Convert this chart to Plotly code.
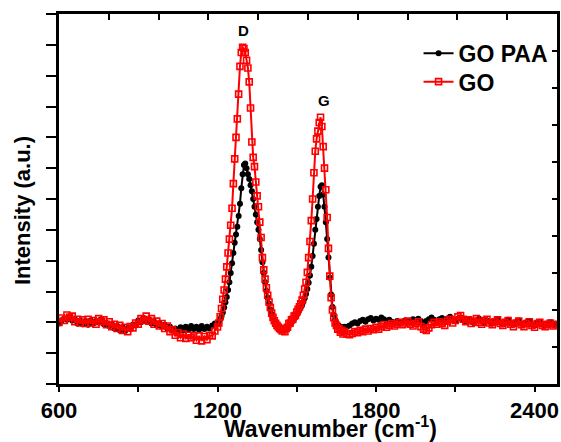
import plotly.graph_objects as go

# ---------------- data ----------------
wn_low = [600, 610, 620, 630, 640, 650, 660, 670, 680, 690,
          700, 710, 720, 730, 740, 750, 760, 770, 780, 790,
          800, 810, 820, 830, 840, 850, 860, 870, 880, 890,
          900, 910, 920, 930, 940, 950, 960, 970, 980, 990,
          1000, 1010, 1020, 1030, 1040, 1050, 1060, 1070, 1080, 1090,
          1100, 1110, 1120, 1130, 1140, 1150, 1160, 1170, 1180, 1190]
wn_peak = [1200, 1205, 1210, 1215, 1220, 1225, 1230, 1235, 1240, 1245,
           1250, 1255, 1260, 1265, 1270, 1275, 1280, 1285, 1290, 1295,
           1300, 1305, 1310, 1315, 1320, 1325, 1330, 1335, 1340, 1345,
           1350, 1355, 1360, 1365, 1370, 1375, 1380, 1385, 1390, 1395,
           1400, 1405, 1410, 1415, 1420, 1425, 1430, 1435, 1440, 1445,
           1450, 1455, 1460, 1465, 1470, 1475, 1480, 1485, 1490, 1495,
           1500, 1505, 1510, 1515, 1520, 1525, 1530, 1535, 1540, 1545,
           1550, 1555, 1560, 1565, 1570, 1575, 1580, 1585, 1590, 1595,
           1600, 1605, 1610, 1615, 1620, 1625, 1630, 1635, 1640, 1645,
           1650, 1655, 1660, 1665, 1670, 1675, 1680]
wn_high = [1690, 1700, 1710, 1720, 1730, 1740, 1750, 1760, 1770, 1780,
           1790, 1800, 1810, 1820, 1830, 1840, 1850, 1860, 1870, 1880,
           1890, 1900, 1910, 1920, 1930, 1940, 1950, 1960, 1970, 1980,
           1990, 2000, 2010, 2020, 2030, 2040, 2050, 2060, 2070, 2080,
           2090, 2100, 2110, 2120, 2130, 2140, 2150, 2160, 2170, 2180,
           2190, 2200, 2210, 2220, 2230, 2240, 2250, 2260, 2270, 2280,
           2290, 2300, 2310, 2320, 2330, 2340, 2350, 2360, 2370, 2380,
           2390, 2400, 2410, 2420, 2430, 2440, 2450, 2460, 2470, 2480]

go_low = [2.00, 2.14, 2.06, 2.24, 2.16, 2.20, 2.02, 2.10, 1.98, 2.08,
          1.96, 2.10, 1.98, 2.06, 1.94, 2.12, 2.02, 2.08, 1.92, 2.02,
          1.86, 1.94, 1.80, 1.90, 1.74, 1.84, 1.70, 1.86, 1.82, 1.98,
          1.94, 2.12, 2.06, 2.20, 2.04, 2.12, 1.94, 2.04, 1.88, 1.96,
          1.80, 1.88, 1.70, 1.76, 1.58, 1.66, 1.50, 1.62, 1.48, 1.58,
          1.50, 1.56, 1.42, 1.56, 1.40, 1.54, 1.44, 1.58, 1.56, 1.72]
go_peak = [1.85, 1.98, 2.18, 2.45, 2.75, 3.05, 3.40, 3.80, 4.25, 4.70,
           5.15, 5.70, 6.50, 7.30, 8.00, 8.60, 9.40, 10.30, 10.75, 10.92,
           10.88, 10.75, 10.50, 10.25, 9.80, 8.95, 7.85, 7.35, 7.05, 6.55,
           6.10, 5.75, 5.25, 4.75, 4.10, 3.70, 3.40, 3.12, 2.88, 2.66,
           2.48, 2.30, 2.16, 2.05, 1.97, 1.90, 1.85, 1.80, 1.77, 1.72,
           1.76, 1.70, 1.80, 1.84, 1.96, 1.98, 2.08, 2.10, 2.20, 2.22,
           2.33, 2.42, 2.50, 2.60, 2.72, 2.88, 3.08, 3.30, 3.62, 4.10,
           4.62, 5.30, 6.00, 6.85, 7.55, 7.95, 8.20, 8.48, 8.65, 8.35,
           7.70, 7.00, 6.30, 5.40, 4.40, 3.50, 2.80, 2.40, 2.15, 1.98,
           1.90, 1.78, 1.80, 1.68, 1.74, 1.62, 1.70]
go_high = [1.62, 1.60, 1.64, 1.70, 1.66, 1.74, 1.70, 1.78, 1.72, 1.80,
           1.76, 1.84, 1.78, 1.86, 1.92, 1.84, 1.90, 1.96, 1.88, 1.94,
           2.00, 1.92, 1.98, 2.04, 1.94, 1.88, 1.96, 2.02, 1.86, 1.78,
           1.74, 1.82, 1.92, 2.00, 1.94, 2.02, 1.96, 1.90, 2.04, 2.10,
           1.98, 2.06, 2.18, 2.22, 2.10, 2.02, 2.08, 1.96, 2.04, 2.12,
           2.00, 1.94, 2.06, 2.10, 1.98, 1.92, 2.02, 2.08, 1.96, 1.90,
           2.00, 2.06, 1.94, 1.86, 1.98, 2.04, 1.92, 1.86, 1.96, 2.02,
           1.90, 1.84, 1.96, 2.00, 1.90, 1.86, 1.94, 1.98, 1.88, 1.92]

gopaa_low = [1.96, 2.06, 2.12, 2.08, 2.20, 2.06, 2.10, 1.96, 2.06, 1.94,
             2.04, 1.92, 2.06, 1.96, 2.04, 2.00, 2.10, 1.94, 1.98, 1.88,
             1.94, 1.80, 1.88, 1.74, 1.84, 1.72, 1.82, 1.78, 1.92, 1.90,
             2.06, 2.00, 2.14, 2.04, 2.10, 1.96, 2.02, 1.90, 1.96, 1.86,
             1.92, 1.80, 1.86, 1.74, 1.80, 1.72, 1.84, 1.74, 1.86, 1.76,
             1.88, 1.78, 1.86, 1.76, 1.88, 1.78, 1.86, 1.80, 1.90, 1.96]
gopaa_peak = [1.95, 2.02, 2.10, 2.20, 2.32, 2.48, 2.65, 2.82, 3.05, 3.30,
              3.60, 3.92, 4.25, 4.58, 4.85, 5.10, 5.45, 5.85, 6.35, 6.80,
              7.10, 7.15, 7.00, 6.80, 6.65, 6.45, 6.25, 6.00, 5.75, 5.50,
              5.25, 5.00, 4.70, 4.35, 3.95, 3.60, 3.30, 3.02, 2.80, 2.60,
              2.42, 2.26, 2.14, 2.04, 1.96, 1.90, 1.86, 1.82, 1.80, 1.78,
              1.78, 1.80, 1.82, 1.86, 1.90, 1.95, 2.00, 2.06, 2.12, 2.18,
              2.25, 2.32, 2.40, 2.48, 2.56, 2.66, 2.78, 2.92, 3.08, 3.28,
              3.52, 3.80, 4.15, 4.55, 5.00, 5.35, 5.75, 6.10, 6.40, 6.45,
              6.15, 5.75, 5.25, 4.70, 4.10, 3.45, 2.90, 2.50, 2.25, 2.08,
              1.98, 1.92, 1.88, 1.86, 1.84, 1.84, 1.86]
gopaa_high = [1.86, 1.90, 1.96, 2.00, 1.96, 2.04, 2.08, 2.02, 2.10, 2.14,
              2.06, 2.12, 2.08, 2.16, 2.10, 2.04, 2.08, 2.02, 1.98, 2.04,
              1.96, 2.02, 2.06, 1.98, 2.04, 2.10, 2.06, 2.12, 2.04, 1.98,
              2.04, 2.10, 2.16, 2.08, 2.02, 2.10, 2.14, 2.06, 2.12, 2.18,
              2.10, 2.04, 2.12, 2.16, 2.08, 2.02, 2.10, 2.04, 1.98, 2.06,
              2.12, 2.04, 1.98, 2.06, 2.02, 1.96, 2.04, 2.10, 2.00, 1.94,
              2.02, 2.08, 1.98, 1.92, 2.00, 2.06, 1.96, 1.92, 2.00, 2.04,
              1.94, 1.90, 1.98, 2.02, 1.94, 1.90, 1.96, 2.00, 1.92, 1.96]

x_tick_vals = [600, 900, 1200, 1500, 1800, 2100, 2400]
x_tick_text = ["600", "", "1200", "", "1800", "", "2400"]

peak_labels = ["D", "G"]
peak_x = [1299, 1603]
peak_y = [11.48, 9.21]

wavenumber = wn_low + wn_peak + wn_high
go_int = go_low + go_peak + go_high
gopaa_int = gopaa_low + gopaa_peak + gopaa_high

FONT = "Liberation Sans, Arial, sans-serif"

fig = go.Figure()
fig.add_trace(go.Scatter(
    x=wavenumber, y=gopaa_int, name="<b>GO PAA</b>", mode="lines+markers",
    line=dict(color="black", width=2),
    marker=dict(symbol="circle", size=6, color="black"),
    legend="legend",
))
fig.add_trace(go.Scatter(
    x=wavenumber, y=go_int, name="<b>GO</b>", mode="lines+markers",
    line=dict(color="#ff0000", width=2),
    marker=dict(symbol="square-open", size=6, color="#ff0000",
                line=dict(width=1.6, color="#ff0000")),
    legend="legend2",
))

for lab, px, py in zip(peak_labels, peak_x, peak_y):
    fig.add_annotation(x=px, y=py, xref="x", yref="y", text="<b>%s</b>" % lab,
                       showarrow=False, font=dict(family=FONT, size=15, color="black"))

fig.add_annotation(xref="paper", yref="paper", x=0.546, y=-0.117,
                   text="<b>Wavenumber (cm<sup>-1</sup>)</b>", showarrow=False,
                   xanchor="center", yanchor="middle",
                   font=dict(family=FONT, size=23, color="black"))
fig.add_annotation(xref="paper", yref="paper", x=-0.0743, y=0.470,
                   text="<b>Intensity (a.u.)</b>", showarrow=False, textangle=-90,
                   xanchor="center", yanchor="middle",
                   font=dict(family=FONT, size=22, color="black"))

legend_style = dict(xanchor="left", yanchor="middle",
                    bgcolor="rgba(0,0,0,0)", borderwidth=0,
                    font=dict(family=FONT, size=23, color="black"))

fig.update_layout(
    template="none",
    width=561, height=442,
    margin=dict(l=59, r=4, t=14, b=58, autoexpand=False),
    paper_bgcolor="white", plot_bgcolor="white",
    font=dict(family=FONT, size=22, color="black"),
    showlegend=True,
    legend=dict(x=0.722, y=0.894, **legend_style),
    legend2=dict(x=0.722, y=0.817, **legend_style),
    xaxis=dict(range=[600, 2485], showgrid=False, zeroline=False,
               showline=True, linecolor="black", linewidth=3,
               ticks="outside", ticklen=5, tickwidth=2, tickcolor="black",
               tickmode="array", tickvals=x_tick_vals,
               ticktext=["<b>%s</b>" % t if t else "" for t in x_tick_text],
               tickfont=dict(family=FONT, size=22, color="black"),
               mirror=True, automargin=False),
    yaxis=dict(range=[0, 12], showgrid=False, zeroline=False,
               showline=True, linecolor="black", linewidth=3,
               ticks="outside", ticklen=10, tickwidth=2, tickcolor="black",
               dtick=1, showticklabels=False, mirror=True, automargin=False),
    xaxis2=dict(overlaying="x", side="top", range=[0, 10], dtick=1,
                showgrid=False, zeroline=False, showline=False,
                ticks="inside", ticklen=6, tickwidth=2, tickcolor="black",
                showticklabels=False, automargin=False),
    yaxis2=dict(overlaying="y", side="right", range=[0, 10], dtick=1,
                showgrid=False, zeroline=False, showline=False,
                ticks="inside", ticklen=5, tickwidth=2, tickcolor="black",
                showticklabels=False, automargin=False),
)

# helper trace so the inner-tick top/right axes are rendered
fig.add_trace(go.Scatter(x=[None], y=[None], xaxis="x2", yaxis="y2",
                         showlegend=False, hoverinfo="skip"))

fig.write_html("out.html",
               config={"displayModeBar": False},
               post_script="document.body.style.margin='0';"
                           "document.body.style.padding='0';")
